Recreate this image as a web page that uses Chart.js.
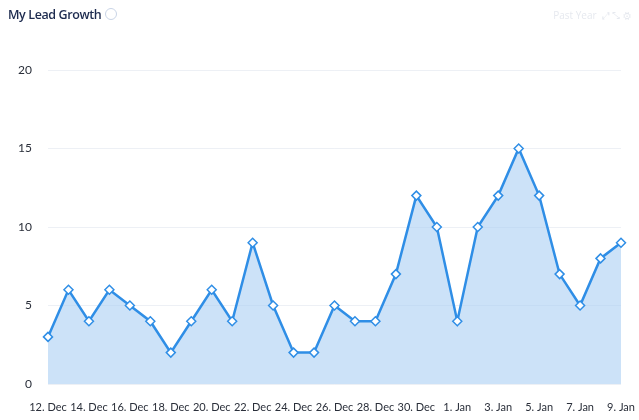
<!DOCTYPE html>
<html>
<head>
<meta charset="utf-8">
<script src="https://cdn.jsdelivr.net/npm/chart.js@4/dist/chart.umd.min.js"></script>
<style>
  html, body { margin: 0; padding: 0; background: #fff; }
  #wrap { position: relative; width: 639px; height: 420px; }
  #title { position: absolute; left: 8px; top: 6px; font: 600 12.5px "Open Sans", sans-serif; color: #1d2b4f; letter-spacing: -0.4px; }
  #title .info { display: inline-block; width: 10px; height: 10px; border: 1px solid #c9d4e6; border-radius: 50%; margin-left: 4px; vertical-align: -1px; }
  #tools { position: absolute; right: 8px; top: 8px; font: 10px "Open Sans", sans-serif; color: #e6e9ef; }
  canvas { position: absolute; left: 0; top: 0; }
</style>
</head>
<body>
<div id="wrap">
  <canvas id="leadChart" width="639" height="420"></canvas>
  <div id="title">My Lead Growth<span class="info"></span></div>
  <div id="tools">Past Year &nbsp;⤢ ⤡ ⚙</div>
</div>
<script>
const labels = [
  "12. Dec", "13. Dec", "14. Dec", "15. Dec", "16. Dec", "17. Dec", "18. Dec", "19. Dec",
  "20. Dec", "21. Dec", "22. Dec", "23. Dec", "24. Dec", "25. Dec", "26. Dec", "27. Dec",
  "28. Dec", "29. Dec", "30. Dec", "31. Dec", "1. Jan", "2. Jan", "3. Jan", "4. Jan",
  "5. Jan", "6. Jan", "7. Jan", "8. Jan", "9. Jan"
];
const leads = [3, 6, 4, 6, 5, 4, 2, 4, 6, 4, 9, 5, 2, 2, 5, 4, 4, 7, 12, 10, 4, 10, 12, 15, 12, 7, 5, 8, 9];
const yTicks = [0, 5, 10, 15, 20];

const xFont = { family: "Lato, sans-serif", size: 11 };
const yFont = { family: "Lato, sans-serif", size: 12 };

const ctx = document.getElementById("leadChart").getContext("2d");
const chart = new Chart(ctx, {
  type: "line",
  data: {
    labels: labels,
    datasets: [{
      label: "Leads",
      data: leads,
      borderColor: "#2f8ee6",
      backgroundColor: "rgba(170, 207, 244, 0.6)",
      borderWidth: 2.5,
      fill: "origin",
      tension: 0,
      pointStyle: "rectRot",
      pointRadius: 4.5,
      pointBackgroundColor: "#ffffff",
      pointBorderColor: "#2f8ee6",
      pointBorderWidth: 1.5
    }]
  },
  options: {
    responsive: false,
    animation: false,
    layout: { padding: { top: 70, right: 18, bottom: 2, left: 0 } },
    plugins: { legend: { display: false }, tooltip: { enabled: false } },
    scales: {
      x: {
        offset: false,
        grid: { display: false },
        border: { display: false },
        afterFit: function(axis) { axis.height = 34; axis.paddingRight = 0; },
        ticks: {
          autoSkip: false,
          maxRotation: 0,
          padding: 9,
          color: "#2a2f3a",
          font: xFont,
          callback: function(value, index) {
            return index % 2 === 0 ? labels[index] : "";
          }
        }
      },
      y: {
        min: 0,
        max: 20,
        afterBuildTicks: function(axis) {
          axis.ticks = yTicks.map(v => ({ value: v }));
        },
        afterFit: function(axis) { axis.width = 48; },
        grid: { color: "rgba(220, 226, 236, 0.5)", drawTicks: false },
        border: { display: false },
        ticks: {
          padding: 16,
          color: "#2a2f3a",
          font: yFont
        }
      }
    }
  }
});
</script>
</body>
</html>
